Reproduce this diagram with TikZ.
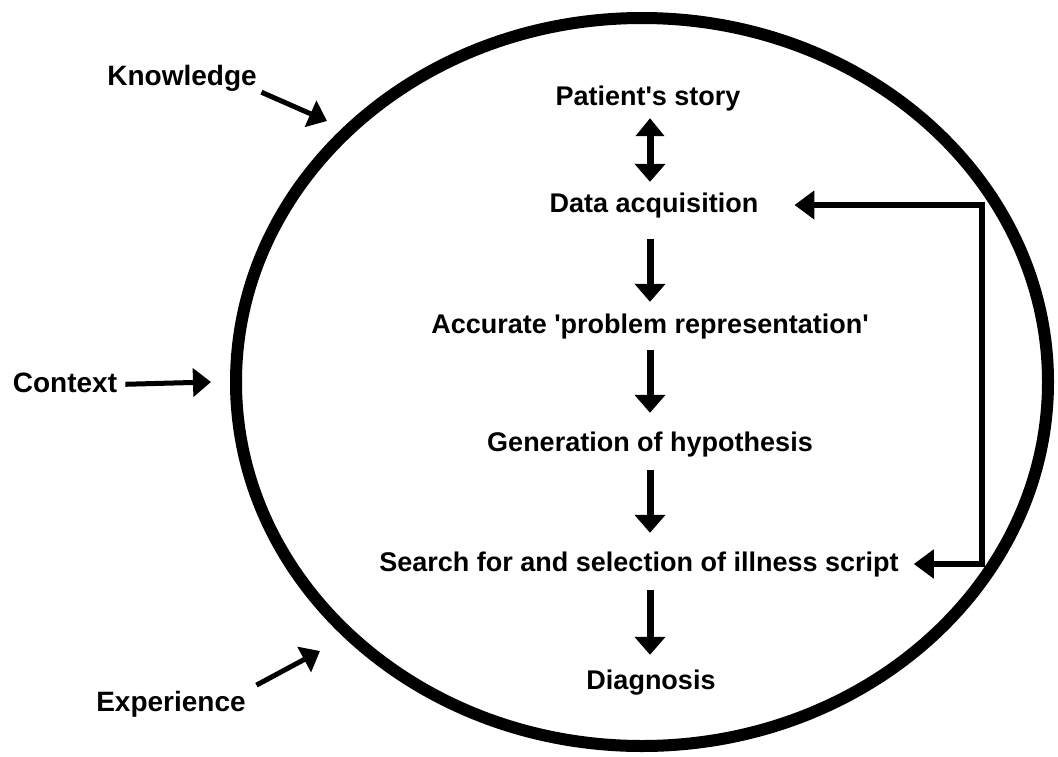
\documentclass[tikz,border=0pt]{standalone}
\usepackage{fontspec}
\setmainfont{Liberation Sans}
\newfontfamily\labfont{Liberation Sans}
\usetikzlibrary{arrows.meta,shapes.geometric}
\begin{document}
\begin{tikzpicture}[x=1pt,y=-1pt,
  lbl/.style={font=\labfont\bfseries\fontsize{27}{30}\selectfont, inner sep=0pt, text height=19pt, text depth=5pt, anchor=base},
  side/.style={font=\labfont\bfseries\fontsize{28}{30}\selectfont, inner sep=0pt, text height=20pt, text depth=5pt, anchor=base},
  flow/.style={line width=7pt, -{Triangle[width=30pt,length=18pt]}},
  twoway/.style={line width=7pt, {Triangle[width=28pt,length=18pt]}-{Triangle[width=30pt,length=18pt]}},
  feedback/.style={line width=6pt, {Triangle[width=28pt,length=20pt]}-{Triangle[width=28pt,length=20pt]}},
  inflow/.style={line width=5pt, -{Triangle[width=28pt,length=18pt]}},
  rim/.style={line width=12pt, draw=black}]
\useasboundingbox (0,0) rectangle (1058,756);
\fill[white] (0,0) rectangle (1058,756);

% outer ellipse
\node[rim, ellipse, minimum width=812pt, minimum height=728pt, inner sep=0pt] (rimshape) at (642,382) {};

% inner labels
\node[lbl] (ps) at (648,105) {Patient's story};
\node[lbl] (da) at (654,212) {Data acquisition};
\node[lbl] (apr) at (650,333) {Accurate 'problem representation'};
\node[lbl] (gh) at (650,451) {Generation of hypothesis};
\node[lbl] (ss) at (639,571) {Search for and selection of illness script};
\node[lbl] (dg) at (651,689) {Diagnosis};

% outer labels
\node[side] (kn) at (182,85) {Knowledge};
\node[side] (cx) at (65,392) {Context};
\node[side] (ex) at (171,711) {Experience};

\coordinate (ax) at (650,0);
\coordinate (fbx) at (982,0);
\coordinate (kt) at (327,121);
\coordinate (ct) at (211,382);
\coordinate (et) at (320,651);

% vertical flow
\draw[twoway, shorten <=8pt, shorten >=11pt] (ps.south -| ax) -- (da.north -| ax);
\draw[flow, shorten <=22pt, shorten >=12pt] (da.south -| ax) -- (apr.north -| ax);
\draw[flow, shorten <=12pt, shorten >=19pt] (apr.south -| ax) -- (gh.north -| ax);
\draw[flow, shorten <=14pt, shorten >=19pt] (gh.south -| ax) -- (ss.north -| ax);
\draw[flow, shorten <=14pt, shorten >=15pt] (ss.south -| ax) -- (dg.north -| ax);

% feedback loop
\draw[feedback, shorten <=15pt, shorten >=36pt, line join=miter] (ss.east) -- (ss.east -| fbx) -- (da.east -| fbx) -- (da.east);

% influences
\draw[inflow, shorten <=5pt] (kn.south east) -- (kt);
\draw[inflow, shorten <=8pt] (cx.east) -- (ct);
\draw[inflow, shorten <=12pt] (ex.north east) -- (et);
\end{tikzpicture}
\end{document}
